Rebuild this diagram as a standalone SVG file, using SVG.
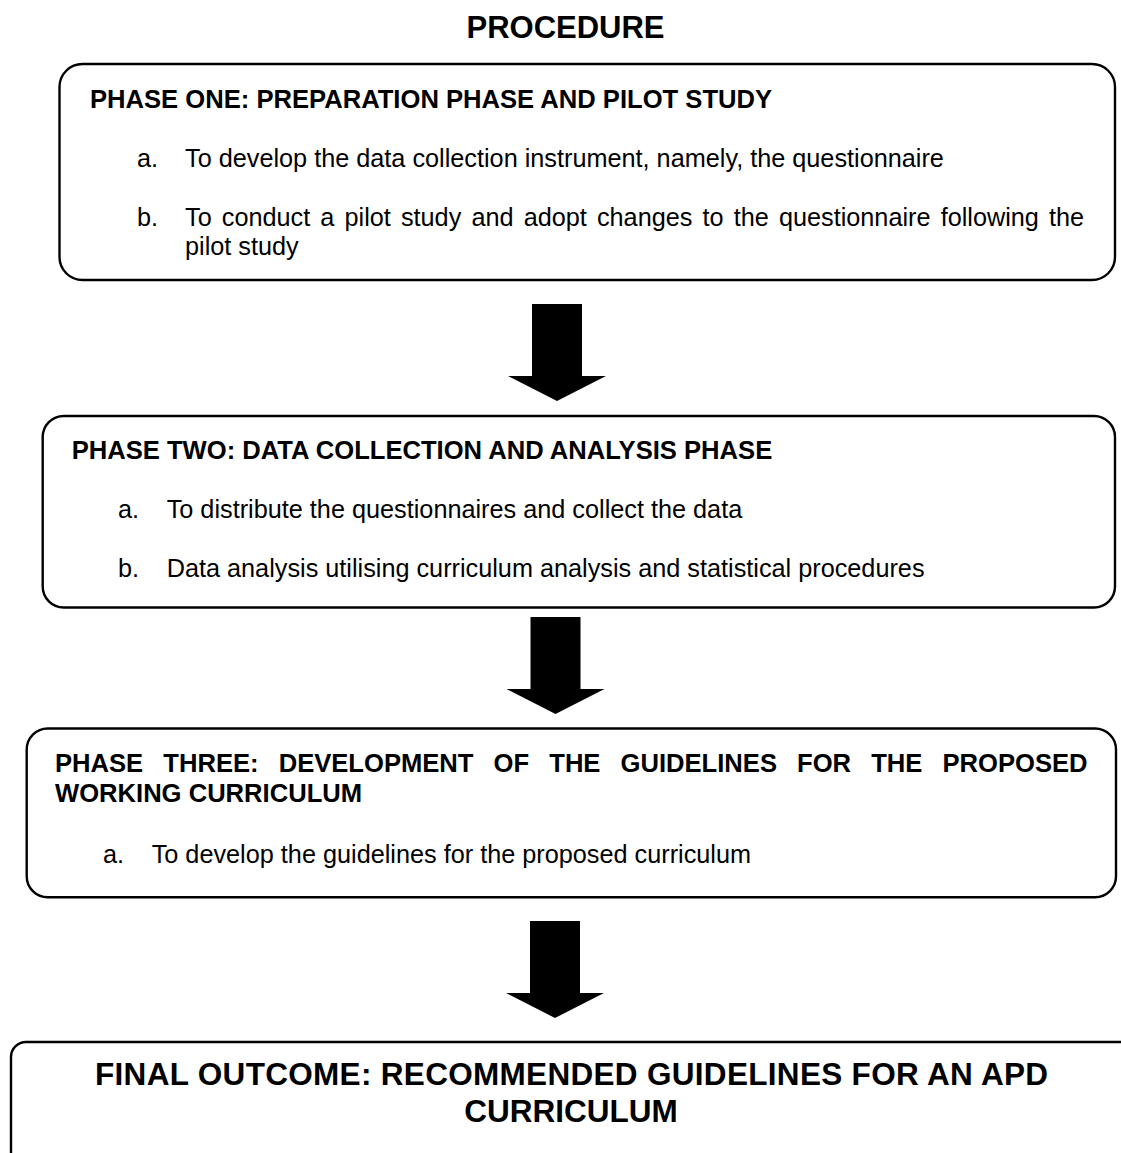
<svg xmlns="http://www.w3.org/2000/svg" xmlns:xlink="http://www.w3.org/1999/xlink" width="1121" height="1153" viewBox="0 0 1121 1153">
<style>
  text { font-family: "Liberation Sans", Arial, sans-serif; fill: #000; }
  .title { font-size: 31px; font-weight: bold; text-anchor: middle; }
  .head { font-size: 25.6px; font-weight: bold; }
  .body { font-size: 25.25px; }
  .final { font-size: 31.5px; font-weight: bold; text-anchor: middle; }
  .box { fill: #fff; stroke: #000; stroke-width: 2.4; }
  .arrow { fill: #000; stroke: none; }
</style>
<defs>
  <path id="blockArrow" d="M-25,0 H25 V72 H49 L0,97 L-49,72 H-25 Z"/>
</defs>
<rect width="1121" height="1153" fill="#fff"/>

<g id="title">
  <text class="title" x="565.5" y="38">PROCEDURE</text>
</g>

<g id="phase1">
  <rect class="box" x="59.5" y="64" width="1055.5" height="216" rx="23" ry="23"/>
  <text class="head" x="90" y="108">PHASE ONE: PREPARATION PHASE AND PILOT STUDY</text>
  <text class="body" x="137" y="167">a.</text>
  <text class="body" x="185" y="167">To develop the data collection instrument, namely, the questionnaire</text>
  <text class="body" x="137" y="226">b.</text>
  <text class="body" x="185" y="226" word-spacing="3.1">To conduct a pilot study and adopt changes to the questionnaire following the</text>
  <text class="body" x="185" y="255">pilot study</text>
</g>

<g id="phase2">
  <rect class="box" x="42.7" y="416" width="1072.3" height="191.5" rx="21" ry="21"/>
  <text class="head" x="71.7" y="459">PHASE TWO: DATA COLLECTION AND ANALYSIS PHASE</text>
  <text class="body" x="118" y="518">a.</text>
  <text class="body" x="166.7" y="518">To distribute the questionnaires and collect the data</text>
  <text class="body" x="118" y="577">b.</text>
  <text class="body" x="166.7" y="577">Data analysis utilising curriculum analysis and statistical procedures</text>
</g>

<g id="phase3">
  <rect class="box" x="26.7" y="728.5" width="1089.3" height="168.8" rx="21" ry="21"/>
  <text class="head" x="55" y="772" word-spacing="13">PHASE THREE: DEVELOPMENT OF THE GUIDELINES FOR THE PROPOSED</text>
  <text class="head" x="55" y="802">WORKING CURRICULUM</text>
  <text class="body" x="103" y="863">a.</text>
  <text class="body" x="151.7" y="863">To develop the guidelines for the proposed curriculum</text>
</g>

<g id="final">
  <rect class="box" x="11" y="1042" width="1125" height="150" rx="15" ry="15"/>
  <text class="final" x="571.5" y="1085" textLength="953">FINAL OUTCOME: RECOMMENDED GUIDELINES FOR AN APD</text>
  <text class="final" x="571" y="1122">CURRICULUM</text>
</g>

<g id="connectors">
  <use class="arrow" xlink:href="#blockArrow" href="#blockArrow" transform="translate(557,304)"/>
  <use class="arrow" xlink:href="#blockArrow" href="#blockArrow" transform="translate(555.5,617)"/>
  <use class="arrow" xlink:href="#blockArrow" href="#blockArrow" transform="translate(555,921)"/>
</g>
</svg>
